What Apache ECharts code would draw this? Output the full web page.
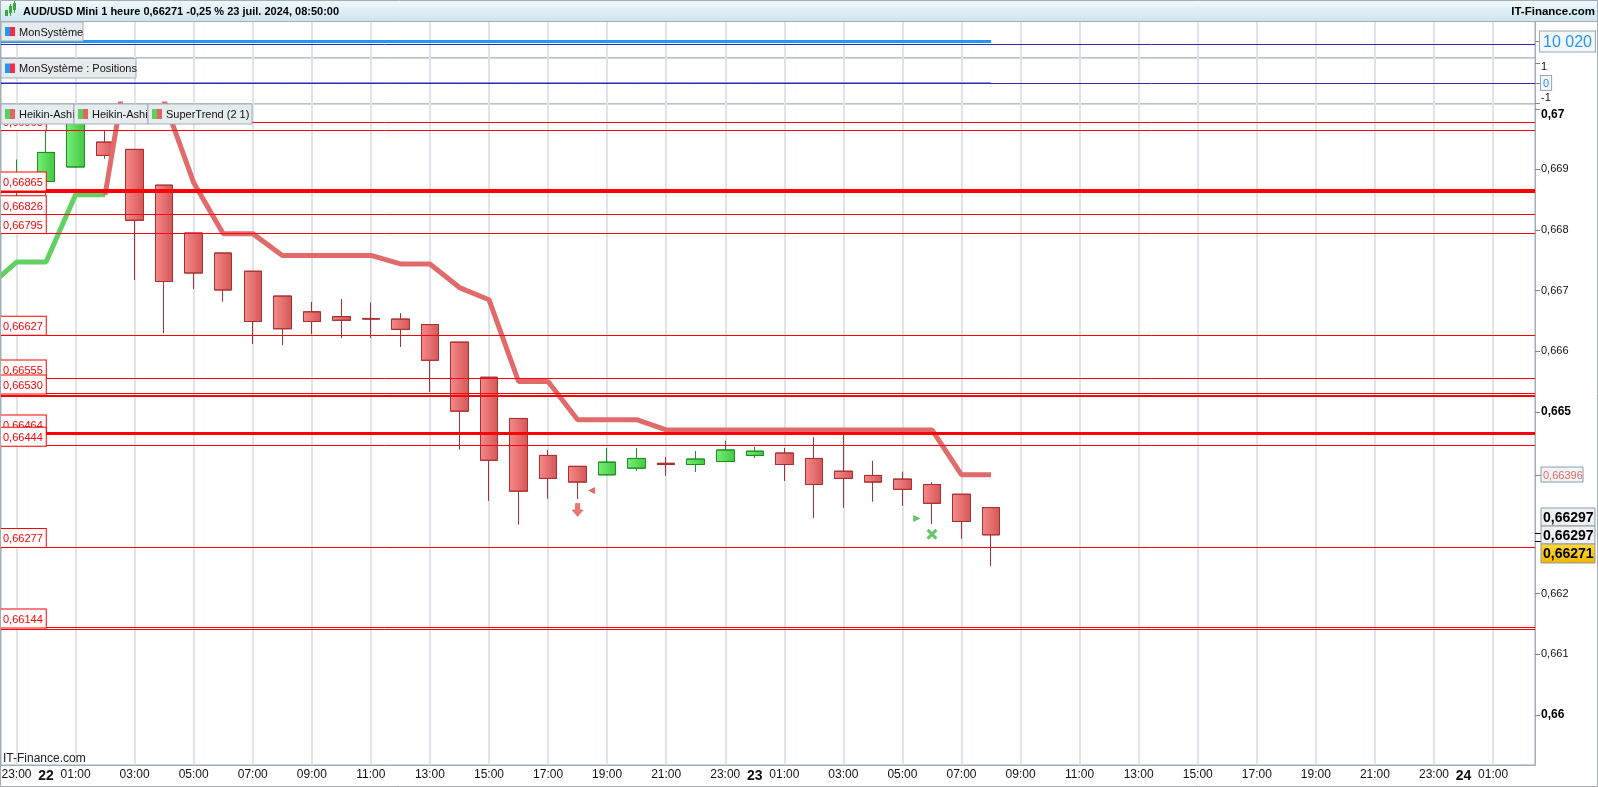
<!DOCTYPE html>
<html><head><meta charset="utf-8">
<script src="https://cdn.jsdelivr.net/npm/echarts@6/dist/echarts.min.js"></script>
<style>html,body{margin:0;padding:0;background:#fff}#c{width:1598px;height:787px}</style>
</head><body><div id="c"></div>
<script>
// ---------- DATA (hour index 0 = 21 juil. 23:00, one Heikin-Ashi candle per hour) ----------
const candleStart = 0;
const haOpen  = [0.66872,0.66880,0.66904,0.66945,0.66933,0.66874,0.66795,0.66762,0.66732,0.66691,0.66665,0.66657,0.66654,0.66653,0.66644,0.66615,0.66557,0.66489,0.66428,0.66410,0.66396,0.66407,0.66415,0.66413,0.66418,0.66428,0.66432,0.66423,0.66402,0.66395,0.66389,0.66380,0.66364,0.66342];
const haClose = [0.66888,0.66928,0.66986,0.66923,0.66816,0.66715,0.66729,0.66701,0.66649,0.66637,0.66649,0.66651,0.66653,0.66636,0.66585,0.66501,0.66420,0.66369,0.66390,0.66384,0.66417,0.66423,0.66413,0.66422,0.66437,0.66435,0.66413,0.66380,0.66390,0.66384,0.66372,0.66349,0.66319,0.66297];
const haLow   = [0.66830,0.66858,0.66903,0.66918,0.66718,0.66630,0.66703,0.66682,0.66612,0.66610,0.66628,0.66622,0.66622,0.66607,0.66533,0.66438,0.66353,0.66314,0.66357,0.66356,0.66395,0.66403,0.66395,0.66401,0.66418,0.66424,0.66386,0.66325,0.66342,0.66352,0.66345,0.66315,0.66291,0.66246];
const haHigh  = [0.66916,0.66988,0.66995,0.66964,0.66933,0.66874,0.66795,0.66762,0.66732,0.66691,0.66681,0.66686,0.66680,0.66663,0.66644,0.66615,0.66557,0.66489,0.66437,0.66410,0.66440,0.66440,0.66425,0.66435,0.66452,0.66442,0.66440,0.66458,0.66462,0.66419,0.66401,0.66384,0.66364,0.66342];

// SuperTrend (2 1): bullish part then bearish part
const stUpStart = -1;
const stUp = [0.66704,0.66747,0.66747,0.66858,0.66858];
const stDownStart = 3;
const stDown = [0.66858,0.67150,0.67013,0.66878,0.66794,0.66794,0.66758,0.66758,0.66758,0.66758,0.66744,0.66744,0.66705,0.66685,0.66550,0.66550,0.66487,0.66487,0.66487,0.66470,0.66470,0.66470,0.66470,0.66470,0.66470,0.66470,0.66470,0.66470,0.66470,0.66396,0.66396];

// MonSystème (equity) and positions
const equityStart = -1;
const equity = [10020,10020,10020,10020,10020,10020,10020,10020,10020,10020,10020,10020,10020,10020,10020,10020,10020,10020,10020,10020,10020,10020,10020,10020,10020,10020,10020,10020,10020,10020,10020,10020,10020,10020,10020];
const capitalRef = 10000;
const positionsStart = -1;
const positions = [0,0,0,0,0,0,0,0,0,0,0,0,0,0,0,0,0,0,0,0,0,0,0,0,0,0,0,0,0,0,0,0,0,0,0];
const positionsRef = 0;
const lastPrice = 0.66271;

// horizontal price levels
const levelValues = [0.66978,0.66965,0.66865,0.66826,0.66795,0.66627,0.66555,0.66530,0.66527,0.66464,0.66444,0.66277,0.66144,0.66142];
const levelHasLabel = [false,true,true,true,true,true,true,true,false,true,true,true,true,false];

// signals
const shortArrows = [[19, 0.66338]];
const shortMarks  = [[19.48, 0.66370]];
const exitMarks   = [[30.48, 0.66324]];
const exitCrosses = [[31, 0.66298]];

// axes ticks / labels
const xLabelHours = [0,1,2,4,6,8,10,12,14,16,18,20,22,24,25,26,28,30,32,34,36,38,40,42,44,46,48,49,50];
const xLabelTexts = ['23:00','22','01:00','03:00','05:00','07:00','09:00','11:00','13:00','15:00','17:00','19:00','21:00','23:00','23','01:00','03:00','05:00','07:00','09:00','11:00','13:00','15:00','17:00','19:00','21:00','23:00','24','01:00'];
const xGridHours = [0,2,4,6,8,10,12,14,16,18,20,22,24,26,28,30,32,34,36,38,40,42,44,46,48,50];
const yTickValues = [0.66,0.661,0.662,0.665,0.666,0.667,0.668,0.669,0.67];
const yTickTexts  = ['0,66','0,661','0,662','0,665','0,666','0,667','0,668','0,669','0,67'];
const posTickValues = [1,0,-1];
const posTickTexts  = ['1','0','-1'];

const titleText = 'AUD/USD Mini 1 heure 0,66271 -0,25 % 23 juil. 2024, 08:50:00';

// ---------- STYLE ----------
const FONT = '"Liberation Sans", Arial, sans-serif';
const NARROW = '"Liberation Sans Narrow", "Liberation Sans", Arial, sans-serif';
const GRID_COLOR = '#a3adb5';
const X_MIN = -0.525, X_MAX = 51.42;
const thickLevels = {'0.66865': 4, '0.66464': 3, '0.66527': 2};
const fmt5 = v => v.toFixed(5).replace('.', ',');
const fmtThousands = v => String(v).replace(/\B(?=(\d{3})+(?!\d))/g, ' ');

const chart = echarts.init(document.getElementById('c'));

function xAxisFor(gi, labels) {
  const ax = {
    type: 'value', gridIndex: gi, min: X_MIN, max: X_MAX,
    axisLine: {show: labels, onZero: false, lineStyle: {color: GRID_COLOR}},
    axisTick: {show: false, customValues: xGridHours},
    splitLine: {show: true, lineStyle: {color: '#dfe3ea', width: 2}},
    axisLabel: {show: false}
  };
  if (labels) {
    ax.axisLabel = {
      show: true, customValues: xLabelHours, margin: 4, color: '#111',
      formatter: v => {
        const k = xLabelHours.findIndex(h => Math.abs(h - v) < 1e-6);
        if (k < 0) return '';
        const t = xLabelTexts[k];
        return t.length <= 2 ? '{d|' + t + '}' : '{n|' + t + '}';
      },
      rich: {
        d: {fontWeight: 'bold', fontSize: 14, fontFamily: NARROW, color: '#111'},
        n: {fontSize: 12, fontFamily: NARROW, color: '#111'}
      }
    };
  }
  return ax;
}

const gridBase = {left: 1, right: 63, show: true, borderColor: GRID_COLOR, borderWidth: 1, backgroundColor: '#fff', containLabel: false, outerBoundsMode: 'none'};

const redGrad = new echarts.graphic.LinearGradient(0, 0, 1, 0, [{offset: 0, color: '#f58a8a'}, {offset: 1, color: '#d65656'}]);
const greenGrad = new echarts.graphic.LinearGradient(0, 0, 1, 0, [{offset: 0, color: '#78ee78'}, {offset: 1, color: '#40c840'}]);

const option = {
  animation: false,
  textStyle: {fontFamily: FONT},
  grid: [
    Object.assign({top: 21, height: 37}, gridBase),
    Object.assign({top: 58, height: 46}, gridBase),
    Object.assign({top: 104, height: 661}, gridBase)
  ],
  xAxis: [xAxisFor(0, false), xAxisFor(1, false), xAxisFor(2, true)],
  yAxis: [
    {
      type: 'value', gridIndex: 0, position: 'right', min: 9888, max: 10184,
      axisLine: {show: true, onZero: false, lineStyle: {color: GRID_COLOR}},
      axisTick: {show: true, customValues: [equity[equity.length - 1]], length: 5, lineStyle: {color: '#7d8a94'}},
      splitLine: {show: false},
      axisLabel: {
        customValues: [equity[equity.length - 1]], margin: 5,
        formatter: v => '{b|' + fmtThousands(v) + '}',
        rich: {b: {color: '#2196f3', fontSize: 16, fontFamily: FONT, backgroundColor: '#f4f6f8', borderColor: '#9aa6b0', borderWidth: 1, padding: [3, 3, 1, 3]}}
      }
    },
    {
      type: 'value', gridIndex: 1, position: 'right', min: -1.05, max: 1.25,
      axisLine: {show: true, onZero: false, lineStyle: {color: GRID_COLOR}},
      axisTick: {show: true, customValues: posTickValues, length: 5, lineStyle: {color: '#7d8a94'}},
      splitLine: {show: false},
      axisLabel: {
        customValues: posTickValues, margin: 6,
        formatter: v => {
          const k = posTickValues.findIndex(p => Math.abs(p - v) < 1e-9);
          const t = posTickTexts[k];
          if (v === 0) return '{z|' + t + '}';
          return v > 0 ? '{d|' + t + '}' : '{u|' + t + '}';
        },
        rich: {
          z: {color: '#2196f3', fontSize: 11, backgroundColor: '#f4f6f8', borderColor: '#9aa6b0', borderWidth: 1, padding: [2, 2, 1, 2]},
          d: {color: '#111', fontSize: 11, padding: [7, 0, 0, 0]},
          u: {color: '#111', fontSize: 11, padding: [0, 0, 10, 0]}
        }
      }
    },
    {
      type: 'value', gridIndex: 2, position: 'right', min: 0.659172, max: 0.670079,
      axisLine: {show: true, onZero: false, lineStyle: {color: GRID_COLOR}},
      axisTick: {show: true, customValues: yTickValues, length: 5, lineStyle: {color: '#7d8a94'}},
      splitLine: {show: false},
      axisLabel: {
        customValues: yTickValues, margin: 6,
        formatter: v => {
          const k = yTickValues.findIndex(p => Math.abs(p - v) < 1e-9);
          if (k < 0) return '';
          const t = yTickTexts[k];
          const bold = Math.abs(v * 200 - Math.round(v * 200)) < 1e-6;
          if (!bold) return '{n|' + t + '}';
          return k === yTickValues.length - 1 ? '{bt|' + t + '}' : '{b|' + t + '}';
        },
        rich: {
          n: {color: '#111', fontSize: 11},
          b: {color: '#000', fontSize: 12, fontWeight: 'bold'},
          bt: {color: '#000', fontSize: 12, fontWeight: 'bold', padding: [12, 0, 0, 0]}
        }
      }
    }
  ],
  series: [
    {
      type: 'line', xAxisIndex: 0, yAxisIndex: 0, silent: true, symbol: 'none', z: 3,
      data: equity.map((v, k) => [equityStart + k, v]),
      lineStyle: {color: '#2196f3', width: 3},
      markLine: {silent: true, symbol: ['none', 'none'], label: {show: false}, z: 2,
        lineStyle: {color: '#2a2ab4', width: 1, type: 'solid'}, data: [{yAxis: capitalRef}]}
    },
    {
      type: 'line', xAxisIndex: 1, yAxisIndex: 1, silent: true, symbol: 'none', z: 3,
      data: positions.map((v, k) => [positionsStart + k, v]),
      lineStyle: {color: '#2a2ab4', width: 1},
      markLine: {silent: true, symbol: ['none', 'none'], label: {show: false}, z: 2,
        lineStyle: {color: '#2a2ab4', width: 1, type: 'solid'}, data: [{yAxis: positionsRef}]}
    },
    {
      type: 'candlestick', xAxisIndex: 2, yAxisIndex: 2, silent: true, z: 2, barWidth: 18,
      data: haOpen.map((o, k) => [candleStart + k, o, haClose[k], haLow[k], haHigh[k]]),
      itemStyle: {color: greenGrad, color0: redGrad, borderColor: '#1f8f1f', borderColor0: '#a83030', borderWidth: 1},
      markLine: {
        silent: true, symbol: ['none', 'none'], z: 5, precision: 5,
        lineStyle: {color: '#ff0000', width: 1, type: 'solid'},
        data: levelValues.map((v, k) => ({
          yAxis: v,
          lineStyle: {color: '#ff0000', width: thickLevels[String(v)] || 1, type: 'solid'},
          label: levelHasLabel[k] ? {
            show: true, position: 'insideStartTop', distance: [0, 0], formatter: fmt5(v),
            color: '#ff0000', fontSize: 11, fontFamily: FONT,
            backgroundColor: '#ffffff', borderColor: '#ff0000', borderWidth: 1, padding: [5, 3, 2, 2]
          } : {show: false}
        }))
      }
    },
    {
      type: 'line', xAxisIndex: 2, yAxisIndex: 2, silent: true, symbol: 'none', z: 3,
      data: stUp.map((v, k) => [stUpStart + k, v]),
      lineStyle: {color: '#62d062', width: 5}
    },
    {
      type: 'line', xAxisIndex: 2, yAxisIndex: 2, silent: true, symbol: 'none', z: 3,
      data: stDown.map((v, k) => [stDownStart + k, v]),
      lineStyle: {color: '#e16a6a', width: 5}
    },
    {
      type: 'scatter', xAxisIndex: 2, yAxisIndex: 2, silent: true, z: 4,
      data: shortArrows,
      symbol: 'path://M3,0 L7,0 L7,6 L10,6 L5,12 L0,6 L3,6 Z', symbolSize: [11, 13],
      itemStyle: {color: '#ea5252', borderColor: '#c03a3a', borderWidth: 0.5}
    },
    {
      type: 'scatter', xAxisIndex: 2, yAxisIndex: 2, silent: true, z: 4,
      data: shortMarks, symbol: 'triangle', symbolRotate: 90, symbolSize: [6, 6],
      itemStyle: {color: '#e04848', borderColor: '#b02a2a', borderWidth: 0.5}
    },
    {
      type: 'scatter', xAxisIndex: 2, yAxisIndex: 2, silent: true, z: 4,
      data: exitMarks, symbol: 'triangle', symbolRotate: -90, symbolSize: [6, 6],
      itemStyle: {color: '#3cc03c', borderColor: '#1f8f1f', borderWidth: 0.5}
    },
    {
      type: 'scatter', xAxisIndex: 2, yAxisIndex: 2, silent: true, z: 4,
      data: exitCrosses,
      symbol: 'path://M2,0 L5,3 L8,0 L10,2 L7,5 L10,8 L8,10 L5,7 L2,10 L0,8 L3,5 L0,2 Z', symbolSize: [11, 11],
      itemStyle: {color: '#3cb843'}
    }
  ]
};
chart.setOption(option);

// ---------- static chrome & price tags (placed above the plot) ----------
function legendBox(x, y, w, h, label, c1, c2) {
  return {type: 'group', x: x, y: y, children: [
    {type: 'rect', shape: {x: 0, y: 0, width: w, height: h}, style: {fill: '#e6ebee', stroke: '#a3adb5', lineWidth: 1}},
    {type: 'rect', shape: {x: 4, y: 5, width: 5, height: h - 10}, style: {fill: c1}},
    {type: 'rect', shape: {x: 9, y: 5, width: 5, height: h - 10}, style: {fill: c2}},
    {type: 'text', x: 18, y: h / 2 + 1, style: {text: label, fill: '#111', fontSize: 11, fontFamily: FONT, verticalAlign: 'middle'}}
  ]};
}
function tag(yc, h, w, text, opts) {
  return {type: 'group', x: 1541, y: Math.round(yc - h / 2), children: [
    {type: 'rect', shape: {x: 0, y: 0, width: w, height: h}, style: {fill: opts.fill, stroke: '#8e9aa4', lineWidth: 1}},
    {type: 'text', x: 2, y: h / 2 + 1, style: {text: text, fill: opts.color, fontSize: opts.size, fontWeight: opts.weight, fontFamily: FONT, verticalAlign: 'middle'}}
  ]};
}
function lift(list, z) {
  list.forEach(e => {
    e.z = z; e.zlevel = 1; e.silent = true;
    if (e.children) lift(e.children, z + 1);
  });
  return list;
}
const py = v => chart.convertToPixel({yAxisIndex: 2}, v);
const stLast = stDown[stDown.length - 1];
const haLast = haClose[haClose.length - 1];
const yST = py(stLast), yHA = py(haLast), yLP = py(lastPrice);
const yellowTop = Math.max(yLP - 9.5, yHA + 9);

const graphics = [
  {type: 'rect', shape: {x: 0, y: 0, width: 1598, height: 21},
    style: {fill: {type: 'linear', x: 0, y: 0, x2: 0, y2: 1, colorStops: [{offset: 0, color: '#f0f9fc'}, {offset: 1, color: '#cde5ef'}]}}},
  {type: 'line', shape: {x1: 0, y1: 21.5, x2: 1598, y2: 21.5}, style: {stroke: GRID_COLOR, lineWidth: 1}},
  {type: 'rect', shape: {x: 5, y: 10, width: 3, height: 6}, style: {fill: '#3aa83a'}},
  {type: 'rect', shape: {x: 9, y: 6, width: 3, height: 7}, style: {fill: '#3aa83a'}},
  {type: 'rect', shape: {x: 13, y: 3, width: 3, height: 7}, style: {fill: '#3aa83a'}},
  {type: 'line', shape: {x1: 10.5, y1: 4, x2: 10.5, y2: 16}, style: {stroke: '#3aa83a', lineWidth: 1}},
  {type: 'line', shape: {x1: 14.5, y1: 1, x2: 14.5, y2: 13}, style: {stroke: '#3aa83a', lineWidth: 1}},
  {type: 'text', x: 23, y: 11.5, style: {text: titleText, fill: '#000', fontSize: 11, fontWeight: 'bold', fontFamily: FONT, verticalAlign: 'middle'}},
  {type: 'text', x: 1595, y: 11.5, style: {text: 'IT-Finance.com', fill: '#000', fontSize: 11.5, fontWeight: 'bold', fontFamily: FONT, align: 'right', verticalAlign: 'middle'}},
  legendBox(1, 22, 82, 19, 'MonSystème', '#2196f3', '#ff2a4a'),
  legendBox(1, 58.5, 135, 19.5, 'MonSystème : Positions', '#2196f3', '#ff2a4a'),
  legendBox(1, 104, 73, 20, 'Heikin-Ashi', '#5ccf5c', '#e06666'),
  legendBox(74, 104, 74, 20, 'Heikin-Ashi', '#5ccf5c', '#e06666'),
  legendBox(148, 104, 104, 20, 'SuperTrend (2 1)', '#5ccf5c', '#e06666'),
  {type: 'text', x: 3, y: 759, style: {text: 'IT-Finance.com', fill: '#222', fontSize: 12, fontFamily: NARROW, verticalAlign: 'middle'}},
  {type: 'line', shape: {x1: 1535, y1: Math.round(yST) + 0.5, x2: 1541, y2: Math.round(yST) + 0.5}, style: {stroke: '#7d8a94', lineWidth: 1}},
  tag(yST, 15, 42, fmt5(stLast), {fill: '#f2f4f6', color: '#e46a6a', size: 11, weight: 'normal'}),
  {type: 'line', shape: {x1: 1535, y1: Math.round(yHA) - 1.5, x2: 1541, y2: Math.round(yHA) - 1.5}, style: {stroke: '#000', lineWidth: 1}},
  {type: 'line', shape: {x1: 1535, y1: Math.round(yHA) + 6.5, x2: 1541, y2: Math.round(yHA) + 6.5}, style: {stroke: '#000', lineWidth: 1}},
  tag(yHA - 18, 18, 54, fmt5(haLast), {fill: '#eef0f2', color: '#000', size: 14, weight: 'bold'}),
  tag(yHA, 18, 54, fmt5(haLast), {fill: '#eef0f2', color: '#000', size: 14, weight: 'bold'}),
  {type: 'group', x: 1541, y: Math.round(yellowTop), children: [
    {type: 'rect', shape: {x: 0, y: 0, width: 54, height: 19}, style: {fill: {type: 'linear', x: 0, y: 0, x2: 0, y2: 1, colorStops: [{offset: 0, color: '#ffd93a'}, {offset: 1, color: '#f2b600'}]}, stroke: '#8e9aa4', lineWidth: 1}},
    {type: 'text', x: 2, y: 10.5, style: {text: fmt5(lastPrice), fill: '#000', fontSize: 14, fontWeight: 'bold', fontFamily: FONT, verticalAlign: 'middle'}}
  ]},
  {type: 'rect', shape: {x: 0.5, y: 0.5, width: 1597, height: 786}, style: {fill: null, stroke: GRID_COLOR, lineWidth: 1}}
];
chart.setOption({graphic: {elements: lift(graphics, 100)}});
</script></body></html>
